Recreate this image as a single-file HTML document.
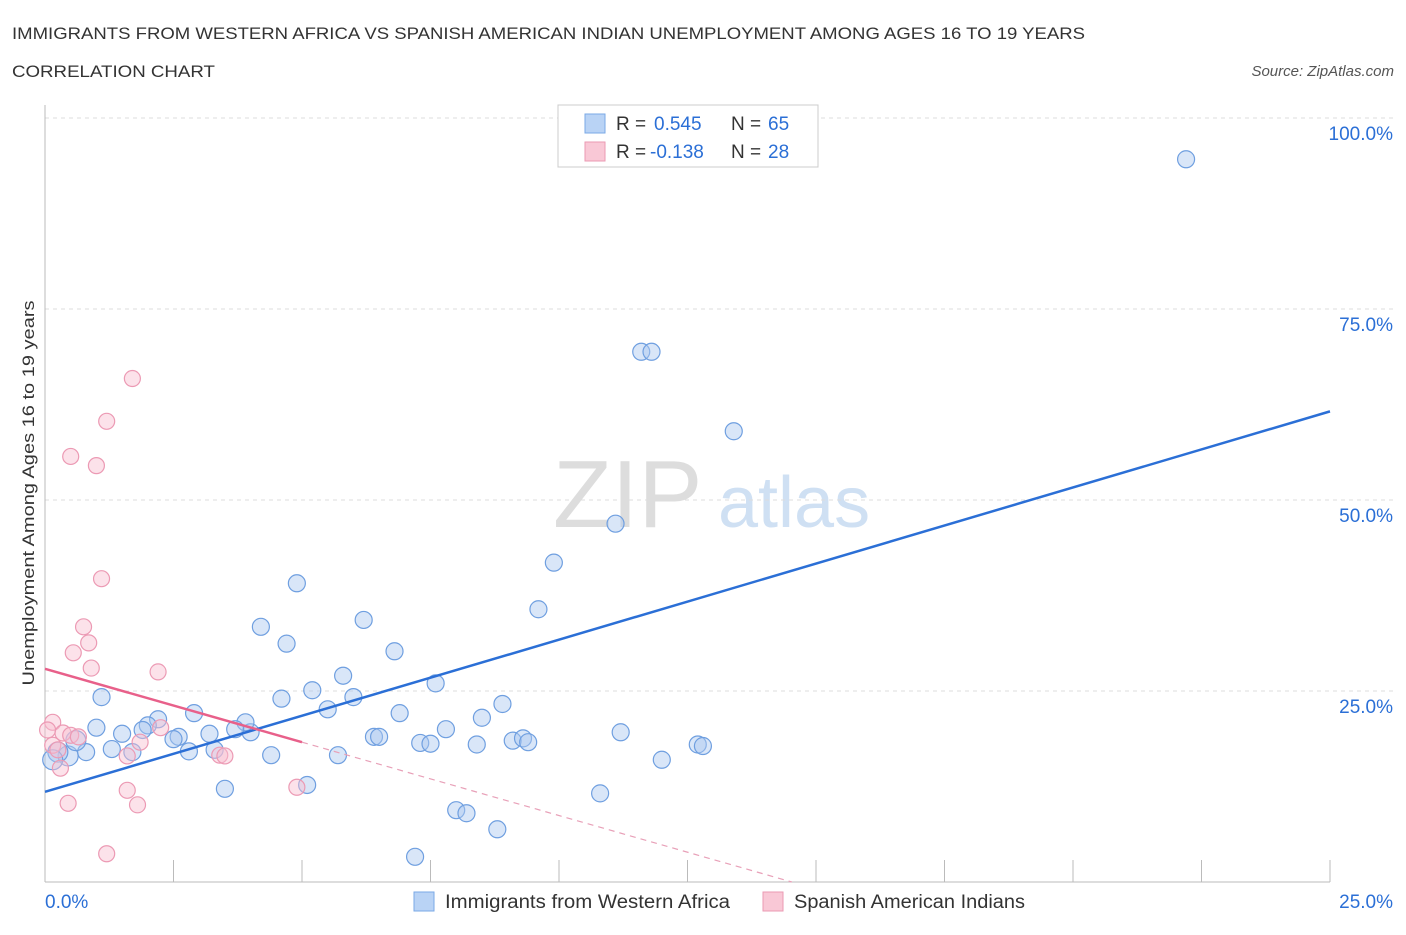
<!DOCTYPE html>
<html><head><meta charset="utf-8">
<style>
body{margin:0;background:#fff;font-family:"Liberation Sans",sans-serif;}
svg text{font-family:"Liberation Sans",sans-serif;}
</style></head>
<body>
<svg id="chart" width="1406" height="930" xmlns="http://www.w3.org/2000/svg">
<text x="12" y="39" font-size="17" fill="#333" textLength="1073" lengthAdjust="spacingAndGlyphs">IMMIGRANTS FROM WESTERN AFRICA VS SPANISH AMERICAN INDIAN UNEMPLOYMENT AMONG AGES 16 TO 19 YEARS</text>
<text x="12" y="77" font-size="17" fill="#333" textLength="203" lengthAdjust="spacingAndGlyphs">CORRELATION CHART</text>
<text x="1394" y="76" font-size="15" fill="#555" text-anchor="end" font-style="italic">Source: ZipAtlas.com</text>
<text x="553" y="527" font-size="96" fill="#ddd" font-family="Liberation Serif">ZIP</text>
<text x="718" y="527" font-size="72" fill="#cfe0f3">atlas</text>
<text transform="translate(34,493) rotate(-90)" font-size="17" fill="#333" text-anchor="middle" textLength="385" lengthAdjust="spacingAndGlyphs">Unemployment Among Ages 16 to 19 years</text>
<g id="grid"></g><g id="axes"></g><g id="pts"></g><g id="lines"></g>
<g>
<rect x="558" y="105" width="260" height="62" fill="#fff" stroke="#ccc"/>
<rect x="585" y="114" width="20" height="19" fill="#b9d3f5" stroke="#7aa8e6"/>
<text x="616" y="130" font-size="19" fill="#333">R =</text><text x="654" y="130" font-size="19" fill="#2b6fd6">0.545</text>
<text x="731" y="130" font-size="19" fill="#333">N =</text><text x="768" y="130" font-size="19" fill="#2b6fd6">65</text>
<rect x="585" y="142" width="20" height="19" fill="#f9c8d6" stroke="#eb9ab3"/>
<text x="616" y="158" font-size="19" fill="#333">R =</text><text x="650" y="158" font-size="19" fill="#2b6fd6">-0.138</text>
<text x="731" y="158" font-size="19" fill="#333">N =</text><text x="768" y="158" font-size="19" fill="#2b6fd6">28</text>
</g>
<g><rect x="414" y="892" width="20" height="19" fill="#b9d3f5" stroke="#7aa8e6"/><text x="445" y="908" font-size="19" fill="#333" textLength="285" lengthAdjust="spacingAndGlyphs">Immigrants from Western Africa</text></g>
<g><rect x="763" y="892" width="20" height="19" fill="#f9c8d6" stroke="#eb9ab3"/><text x="794" y="908" font-size="19" fill="#333" textLength="231" lengthAdjust="spacingAndGlyphs">Spanish American Indians</text></g>
</svg>
<script>
const yTicks=[25,50,75,100];
const xTickLabels=["0.0%","25.0%"];
const blueX=[22.2,11.6,11.8,13.4,11.1,9.9,9.6,4.9,4.2,4.7,6.2,6.8,5.8,5.2,6.0,4.6,7.6,5.5,8.9,8.5,6.9,7.8,6.4,6.5,7.3,7.5,8.4,9.1,9.3,9.4,11.2,12.7,12.8,12.0,10.8,8.0,8.2,8.8,7.2,5.1,5.7,4.4,3.5,4.0,3.9,3.7,3.2,2.9,2.6,2.5,2.8,3.3,2.2,2.0,1.9,1.5,1.0,1.1,1.3,1.7,0.8,0.45,0.25,0.15,0.6];
const blueY=[94.6,69.4,69.4,59.0,46.9,41.8,35.7,39.1,33.4,31.2,34.3,30.2,27.0,25.1,24.2,24.0,26.0,22.6,23.3,21.5,22.1,20.0,19.0,19.0,18.2,18.1,18.0,18.5,18.8,18.3,19.6,18.0,17.8,16.0,11.6,9.4,9.0,6.9,3.3,12.7,16.6,16.6,12.2,19.6,20.9,20.0,19.4,22.1,19.0,18.7,17.1,17.3,21.3,20.5,19.9,19.4,20.2,24.2,17.4,17.0,17.0,16.5,17.0,16.0,18.5];
const pinkX=[1.7,1.2,0.5,1.0,1.1,0.75,0.85,0.55,0.9,2.2,0.15,0.05,0.35,0.5,0.65,1.85,2.25,1.6,3.4,3.5,4.9,1.6,1.8,0.45,1.2,0.3,0.15,0.25];
const pinkY=[65.9,60.3,55.7,54.5,39.7,33.4,31.3,30.0,28.0,27.5,20.9,19.9,19.5,19.2,19.0,18.3,20.2,16.5,16.6,16.5,12.4,12.0,10.1,10.3,3.7,14.9,17.9,17.3];
const trendBlue=[11.8,61.6];
const trendPink=[27.9,-1.92];
const NS="http://www.w3.org/2000/svg";
const X=v=>45+v/25*1285, Y=v=>882-v/100*764;
function mk(t,a,p){const e=document.createElementNS(NS,t);for(const k in a)e.setAttribute(k,a[k]);p.appendChild(e);return e;}
const grid=document.getElementById('grid'),axes=document.getElementById('axes'),pts=document.getElementById('pts'),lines=document.getElementById('lines');
yTicks.forEach(t=>{const l=mk('line',{x1:45,x2:1394,y1:Y(t),y2:Y(t),stroke:'#ddd','stroke-dasharray':'4,4'},grid);


const tx=mk('text',{x:1393,y:Y(t)+22,'font-size':19,fill:'#2b6fd6','text-anchor':'end'},axes);tx.textContent=t.toFixed(1)+'%';

});
mk('line',{x1:45,x2:45,y1:105,y2:882,stroke:'#bbb'},axes);
mk('line',{x1:45,x2:1330,y1:882,y2:882,stroke:'#bbb'},axes);
for(let i=0;i<=10;i++){const t=mk('line',{x1:X(i*2.5),x2:X(i*2.5),y1:882,y2:860,stroke:'#bbb'},axes);

}
const l0=mk('text',{x:45,y:908,'font-size':19,fill:'#2b6fd6'},axes);l0.textContent=xTickLabels[0];


const l1=mk('text',{x:1393,y:908,'font-size':19,fill:'#2b6fd6','text-anchor':'end'},axes);l1.textContent=xTickLabels[1];


blueX.forEach((x,i)=>{const c=mk('circle',{cx:X(x),cy:Y(blueY[i]),r:i>=61?10:8.5,fill:'rgba(170,200,240,0.45)',stroke:'#6f9fe0','stroke-width':1.2},pts);

});
pinkX.forEach((x,i)=>{const c=mk('circle',{cx:X(x),cy:Y(pinkY[i]),r:8,fill:'rgba(248,190,208,0.45)',stroke:'#ec9ab4','stroke-width':1.2},pts);

});
const tb=mk('line',{x1:X(0),y1:Y(trendBlue[0]),x2:X(25),y2:Y(trendBlue[1]),stroke:'#2b6fd6','stroke-width':2.5},lines);


const pEnd=-trendPink[0]/trendPink[1];
const tp=mk('line',{x1:X(0),y1:Y(trendPink[0]),x2:X(5),y2:Y(trendPink[0]+5*trendPink[1]),stroke:'#e8608a','stroke-width':2.5},lines);


const td=mk('line',{x1:X(5),y1:Y(trendPink[0]+5*trendPink[1]),x2:X(pEnd),y2:Y(0),stroke:'#e8a0b8','stroke-width':1.2,'stroke-dasharray':'6,5'},lines);


</script>
</body></html>
